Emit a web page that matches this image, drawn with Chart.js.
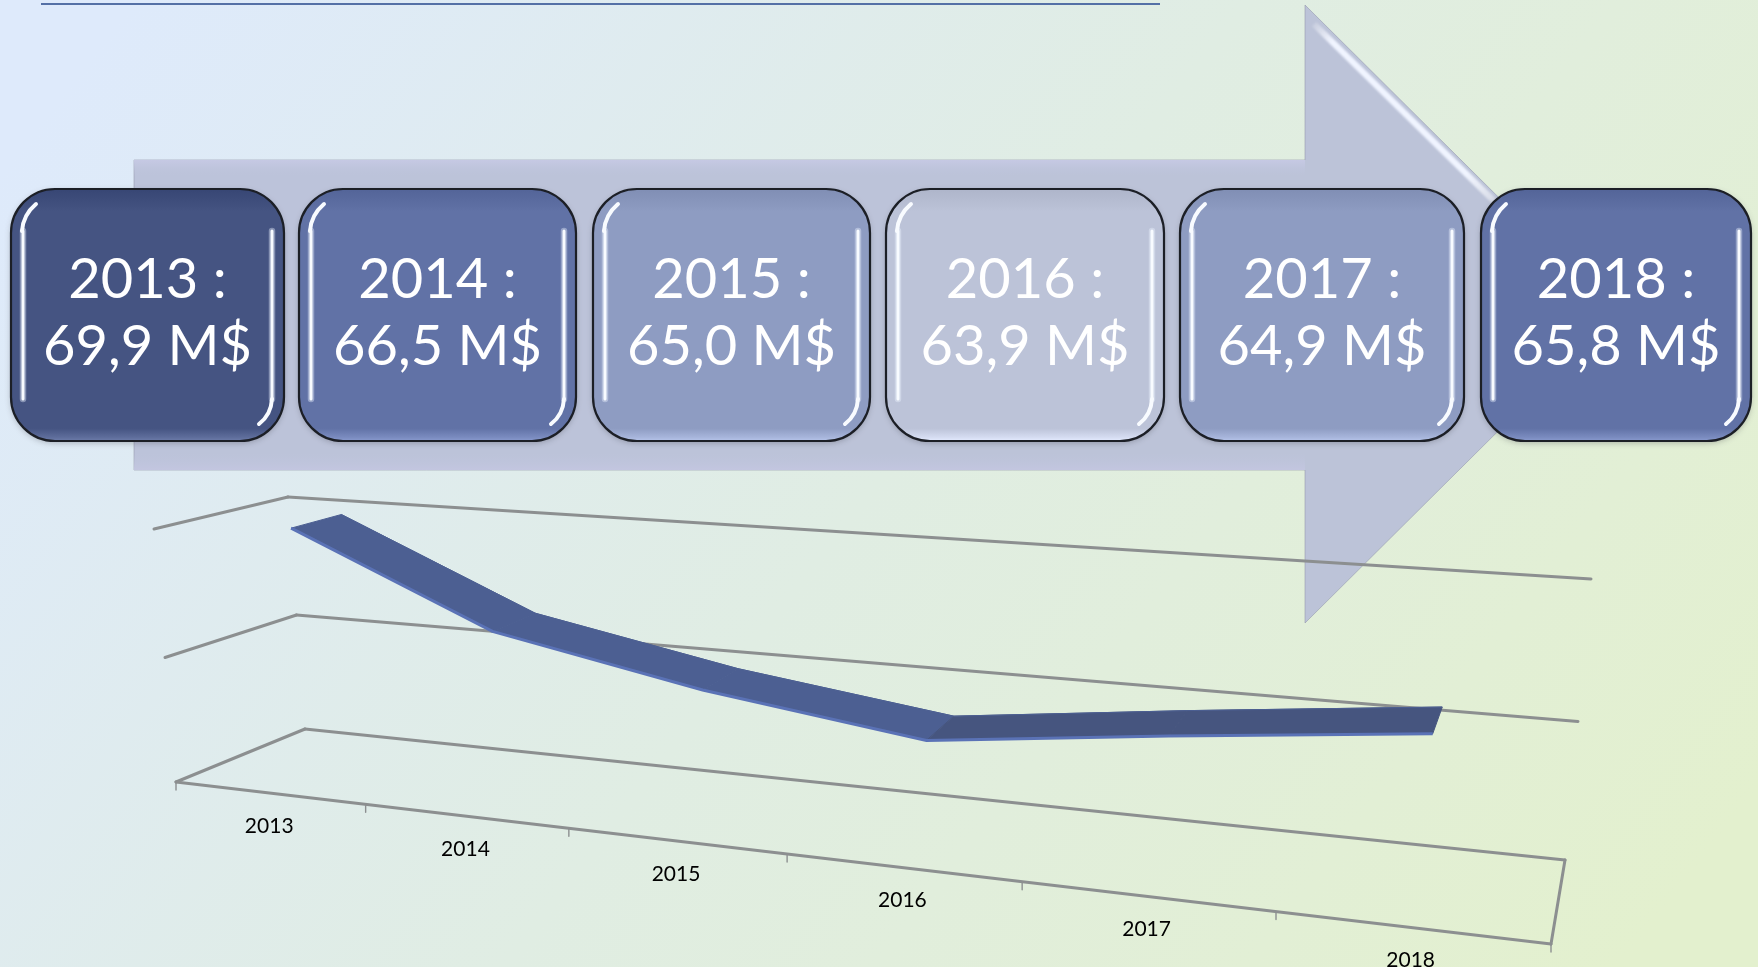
<!DOCTYPE html>
<html>
<head>
<meta charset="utf-8">
<style>html,body{margin:0;padding:0;background:#e0ede6;overflow:hidden}canvas{display:block}</style>
<script src="https://cdn.jsdelivr.net/npm/chart.js@4/dist/chart.umd.min.js"></script>
</head>
<body>
<canvas id="c" width="1758" height="967"></canvas>
<script>
const years = ['2013','2014','2015','2016','2017','2018'];
const values = [69.9,66.5,65.0,63.9,64.9,65.8];
const gridLevels = [60,65,70];
const boxColors = ['#455482','#6172a6','#8e9cc2','#bcc3d8','#8e9cc2','#6172a6'];
const boxLeft = [11,299,593,886,1180,1481];
const boxRight = [284,576,870,1164,1464,1751];

/* 3D frame: corners of the plot box on screen (u,v,d) */
const corner = {
  f00:[176,782], f10:[1551,944], b00:[305,729], b10:[1565,860],
  f01:[154,529], f11:[1581,639], b01:[288,497], b11:[1591,579]
};
const K = 1.25;
const warp = u => u/(K-(K-1)*u);
const mix = (a,b,t)=>[a[0]+(b[0]-a[0])*t,a[1]+(b[1]-a[1])*t];
function project(u,v,d){
  const s=warp(u);
  const f=mix(mix(corner.f00,corner.f10,s),mix(corner.f01,corner.f11,s),v);
  const b=mix(mix(corner.b00,corner.b10,s),mix(corner.b01,corner.b11,s),v);
  const p=mix(f,b,d);
  p[1]+=2*(1-Math.abs(2*v-1));
  return p;
}
function seg(ctx,a,b){ctx.beginPath();ctx.moveTo(a[0],a[1]);ctx.lineTo(b[0],b[1]);ctx.stroke();}
function roundPath(ctx,x,y,w,h,r){ctx.beginPath();ctx.roundRect(x,y,w,h,r);}
function shade(hex,amt){
  const n=parseInt(hex.slice(1),16);const c=[n>>16,(n>>8)&255,n&255].map(q=>Math.max(0,Math.min(255,Math.round(q+amt))));
  return `rgb(${c[0]},${c[1]},${c[2]})`;
}
function drawBackground(ctx){
  const g=ctx.createLinearGradient(180,-60,1580,1020);
  g.addColorStop(0,'#deeafb');g.addColorStop(.5,'#e0ede3');g.addColorStop(1,'#e3f0ce');
  ctx.fillStyle=g;ctx.fillRect(0,0,1758,967);
  ctx.strokeStyle='#5470a6';ctx.lineWidth=2;seg(ctx,[41,4],[1160,4]);
}
function drawArrow(ctx){
  const pts=[[134,160],[1305,160],[1305,5],[1616,314],[1305,623],[1305,470],[134,470]];
  ctx.save();
  ctx.beginPath();pts.forEach((p,i)=>i?ctx.lineTo(p[0],p[1]):ctx.moveTo(p[0],p[1]));ctx.closePath();
  ctx.fillStyle='rgba(185,192,215,0.93)';ctx.fill();
  ctx.strokeStyle='rgba(150,155,175,0.6)';ctx.lineWidth=1;ctx.stroke();
  ctx.clip();
  const t=ctx.createLinearGradient(0,160,0,176);t.addColorStop(0,'#c6c9e4');t.addColorStop(1,'rgba(190,196,220,0)');
  ctx.fillStyle=t;ctx.fillRect(134,160,1171,16);
  const b=ctx.createLinearGradient(0,453,0,470);b.addColorStop(0,'rgba(190,196,220,0)');b.addColorStop(1,'#c3c6e0');
  ctx.fillStyle=b;ctx.fillRect(134,453,1171,17);
  const d=ctx.createLinearGradient(1312,18,1495,200);
  d.addColorStop(0,'rgba(255,255,255,0)');d.addColorStop(.12,'rgba(240,244,255,1)');d.addColorStop(.85,'rgba(240,244,255,1)');d.addColorStop(1,'rgba(255,255,255,.4)');
  ctx.filter='blur(1.2px)';
  ctx.strokeStyle=d;ctx.lineWidth=6;seg(ctx,[1314,24],[1497,204]);
  ctx.filter='none';
  ctx.restore();
}
function drawBox(ctx,i){
  const x=boxLeft[i],w=boxRight[i]-x,y=189,h=252,r=44,col=boxColors[i];
  ctx.save();
  ctx.shadowColor='rgba(60,60,70,.35)';ctx.shadowBlur=6;ctx.shadowOffsetY=2;
  roundPath(ctx,x,y,w,h,r);ctx.fillStyle=col;ctx.fill();
  ctx.restore();
  ctx.save();
  roundPath(ctx,x,y,w,h,r);ctx.clip();
  const g=ctx.createLinearGradient(0,y,0,y+h);
  g.addColorStop(0,shade(col,-14));g.addColorStop(.09,col);g.addColorStop(.95,col);g.addColorStop(.985,shade(col,25));g.addColorStop(1,shade(col,40));
  ctx.fillStyle=g;ctx.fillRect(x,y,w,h);
  // bevel highlights
  ctx.lineCap='round';
  const lx=x+12,rx=x+w-12;
  ctx.filter='blur(0.7px)';
  ctx.strokeStyle='rgba(235,242,255,.4)';ctx.lineWidth=6.5;
  seg(ctx,[lx,y+42],[lx,y+h-42]);seg(ctx,[rx,y+42],[rx,y+h-42]);
  ctx.strokeStyle='rgba(248,251,255,1)';ctx.lineWidth=3;
  seg(ctx,[lx,y+42],[lx,y+h-42]);seg(ctx,[rx,y+42],[rx,y+h-42]);
  ctx.lineWidth=4;
  ctx.beginPath();ctx.moveTo(lx-1,y+42);ctx.quadraticCurveTo(lx,y+26,lx+13,y+15);ctx.stroke();
  ctx.beginPath();ctx.moveTo(rx,y+h-42);ctx.quadraticCurveTo(rx-1,y+h-26,rx-13,y+h-17);ctx.stroke();
  ctx.filter='none';
  ctx.restore();
  roundPath(ctx,x,y,w,h,r);ctx.strokeStyle='#1c1f26';ctx.lineWidth=2.2;ctx.stroke();
  const cx=x+w/2;
  ctx.fillStyle='#fff';ctx.font='56px Lato';ctx.textAlign='center';ctx.textBaseline='middle';
  ctx.fillText(years[i]+' :',cx,280);
  ctx.fillText(values[i].toFixed(1).replace('.',',')+' M$',cx,347);
}
function drawFrame(chart){
  const ctx=chart.ctx,ys=chart.scales.y,a=chart.chartArea;
  ctx.save();ctx.lineCap='round';ctx.strokeStyle='#8c8f90';ctx.lineWidth=3;
  gridLevels.forEach(l=>{
    const v=(a.bottom-ys.getPixelForValue(l))/a.height;
    seg(ctx,project(0,v,0),project(0,v,1));
    seg(ctx,project(0,v,1),project(1,v,1));
  });
  seg(ctx,project(0,0,0),project(1,0,0));
  seg(ctx,project(1,0,0),project(1,0,1));
  ctx.lineWidth=1.4;
  for(let i=0;i<=years.length;i++){
    const p=project(i/years.length,0,0);
    seg(ctx,[p[0],p[1]],[p[0],p[1]+8]);
  }
  ctx.restore();
}
function drawRibbon(chart){
  const ctx=chart.ctx,front=chart.getDatasetMeta(0).data,back=chart.getDatasetMeta(1).data;
  ctx.save();
  for(let i=0;i<front.length-1;i++){
    ctx.beginPath();
    ctx.moveTo(front[i].x,front[i].y);ctx.lineTo(front[i+1].x,front[i+1].y);
    ctx.lineTo(back[i+1].x,back[i+1].y);ctx.lineTo(back[i].x,back[i].y);ctx.closePath();
    const c=values[i+1]>values[i]?'#46557f':'#4c5f92';
    ctx.fillStyle=c;ctx.strokeStyle=c;ctx.lineWidth=1;ctx.fill();ctx.stroke();
  }
  ctx.restore();
}
function drawLabels(chart){
  const ctx=chart.ctx,xs=chart.scales.x,a=chart.chartArea;
  ctx.save();ctx.fillStyle='#000';ctx.font='21px Lato';ctx.textAlign='center';ctx.textBaseline='middle';
  years.forEach((y,i)=>{
    const u=(xs.getPixelForTick(i)-a.left)/a.width,p=project(u,0,0);
    ctx.fillText(y,p[0],p[1]+33);
  });
  ctx.restore();
}
const scene={
  id:'scene',
  afterDatasetsUpdate(chart){
    const a=chart.chartArea;
    chart.data.datasets.forEach((ds,k)=>{
      chart.getDatasetMeta(k).data.forEach(pt=>{
        const p=project((pt.x-a.left)/a.width,(a.bottom-pt.y)/a.height,ds.depth);
        pt.x=p[0];pt.y=p[1];
      });
    });
  },
  beforeDraw(chart){
    const ctx=chart.ctx;
    ctx.save();
    drawBackground(ctx);drawArrow(ctx);
    years.forEach((_,i)=>drawBox(ctx,i));
    ctx.restore();
  },
  beforeDatasetsDraw(chart){drawFrame(chart);drawRibbon(chart);},
  afterDatasetsDraw(chart){drawLabels(chart);}
};
new Chart(document.getElementById('c'),{
  type:'line',
  data:{labels:years,datasets:[
    {label:'Avant',data:values,depth:0.32,borderColor:'#5a72b6',borderWidth:3,pointRadius:0,tension:0,clip:false,fill:false,order:1},
    {label:'Arrière',data:values,depth:0.72,borderColor:'#4c5f92',borderWidth:1,pointRadius:0,tension:0,clip:false,fill:false,order:2}
  ]},
  options:{
    responsive:false,animation:false,events:[],
    layout:{padding:0},
    plugins:{legend:{display:false},tooltip:{enabled:false},title:{display:false}},
    scales:{
      x:{type:'category',display:false,offset:true},
      y:{type:'linear',display:false,min:60,max:70}
    }
  },
  plugins:[scene]
});
</script>
</body>
</html>
